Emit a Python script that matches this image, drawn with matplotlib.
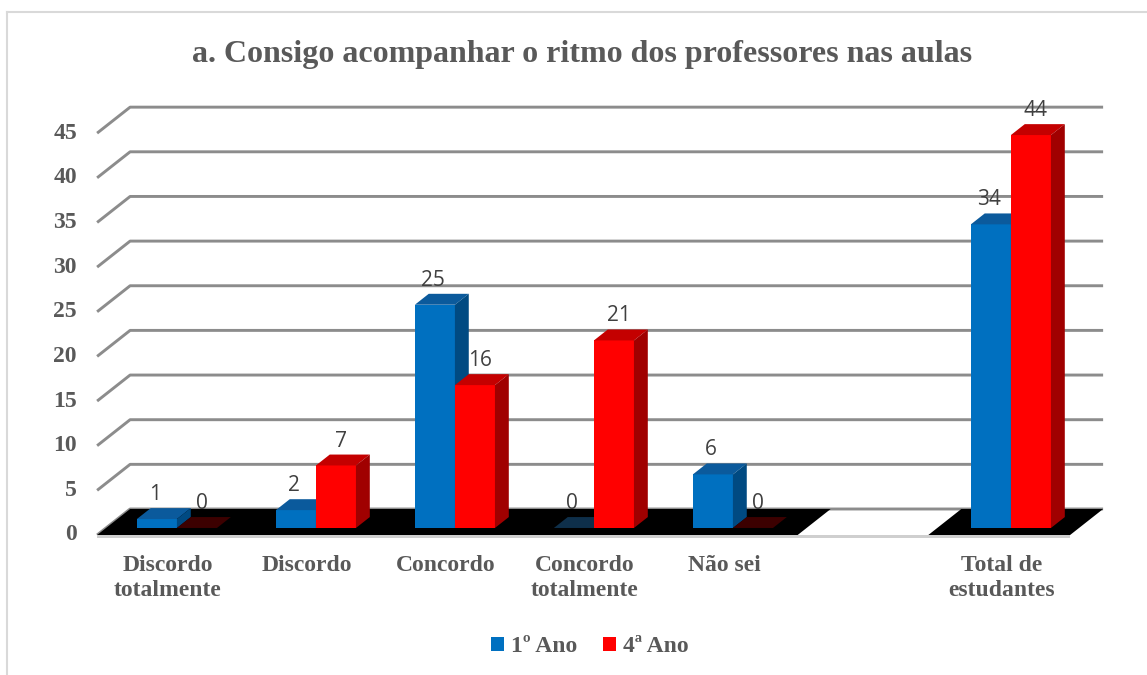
import numpy as np
import matplotlib.pyplot as plt
from matplotlib.patches import Patch
from matplotlib.lines import Line2D

# ---- data ----
categories = ["Discordo\ntotalmente", "Discordo", "Concordo", "Concordo\ntotalmente",
              "Não sei", "", "Total de\nestudantes"]
ano1 = [1, 2, 25, 0, 6, None, 34]
ano4 = [0, 7, 16, 21, 0, None, 44]
series_names = ["1º Ano", "4ª Ano"]
yticks = list(range(0, 50, 5))
title = "a. Consigo acompanhar o ritmo dos professores nas aulas"

# colours: front, top, side, zero-top
blue = ("#0070C0", "#0B5A9C", "#004A82", "#0E2F4A")
red = ("#FF0000", "#C40000", "#A00000", "#3C0000")
grey_txt = "#595959"
serif = ["Liberation Serif", "DejaVu Serif"]

# ---- pseudo 3d projection ----
DX = 33 / 139      # depth shift in category units
DY = 26 / 8.93     # depth shift in value units
D0, D1 = 0.27, 0.69  # bar depth range
W = 0.288          # bar width
X0, X1 = -0.51, 6.49


def proj(x, v, d):
    return x + DX * d, v + DY * d


def face(ax, pts, color, z):
    xs, ys = zip(*[proj(*p) for p in pts])
    ax.fill(xs, ys, color=color, lw=0, zorder=z)


def draw_bar(ax, x0, x1, v, cols, z):
    front, top, side, zero = cols
    if v == 0:
        face(ax, [(x0, 0, D0), (x1, 0, D0), (x1, 0, D1), (x0, 0, D1)], zero, z)
        return
    face(ax, [(x0, 0, D0), (x1, 0, D0), (x1, v, D0), (x0, v, D0)], front, z)
    face(ax, [(x0, v, D0), (x1, v, D0), (x1, v, D1), (x0, v, D1)], top, z)
    face(ax, [(x1, 0, D0), (x1, v, D0), (x1, v, D1), (x1, 0, D1)], side, z)


fig = plt.figure(figsize=(11.47, 6.75), dpi=100)
ax = fig.add_axes([0, 0, 1, 1])
ax.set_xlim(-168 / 139, (1147 - 168) / 139)
ax.set_ylim((535 - 675) / 8.93, 535 / 8.93)
ax.axis('off')

# back wall gridlines
for t in yticks:
    p0 = proj(X0, t, 0)
    p1 = proj(X0, t, 1)
    p2 = proj(X1, t, 1)
    ax.plot([p0[0], p1[0], p2[0]], [p0[1], p1[1], p2[1]], color="#8C8C8C", lw=2.1,
            zorder=1, solid_capstyle='butt')
    ax.text(-0.655, t, str(t), ha='right', va='center', fontsize=17,
            fontweight='bold', color=grey_txt, family=serif)

# floor (front strip + black surface with the gap)
face(ax, [(X0, 0, 0), (X1, 0, 0), (X1, -0.35, 0), (X0, -0.35, 0)], "#CFCFCF", 2)
for a, b in [(X0, 4.53), (5.47, X1)]:
    face(ax, [(a, 0, 0), (b, 0, 0), (b, 0, 1), (a, 0, 1)], "black", 2)

# bars and labels
for i, cat in enumerate(categories):
    if ano1[i] is not None:
        draw_bar(ax, i - W, i, ano1[i], blue, 3)
        draw_bar(ax, i, i + W, ano4[i], red, 4)
        for v, xc in [(ano1[i], i - W / 2 + 0.05), (ano4[i], i + W / 2 + 0.1)]:
            lx, ly = proj(xc, v, D1)
            ax.text(xc, ly + 0.9, str(v), ha='center', va='baseline', fontsize=15,
                    color="#404040", family=["Open Sans", "DejaVu Sans"], zorder=6)
    if cat:
        ax.text(i, -2.2, cat, ha='center', va='top', fontsize=17, fontweight='bold',
                color=grey_txt, family=serif, linespacing=1.3)

ax.text(2.982, (535 - 62) / 8.93, title, ha='center', va='baseline', fontsize=23,
        fontweight='bold', color=grey_txt, family=serif)

# legend
handles = [Patch(facecolor=blue[0], edgecolor='none'), Patch(facecolor=red[0], edgecolor='none')]
fig.legend(handles, series_names, loc='center', bbox_to_anchor=(590 / 1147, 1 - 647 / 675),
           ncol=2, frameon=False, handlelength=0.55, handleheight=0.55, handletextpad=0.3,
           columnspacing=1.1, prop={'family': serif, 'weight': 'bold', 'size': 17},
           labelcolor=grey_txt)

# outer chart border (left and top edges visible)
fig.add_artist(Line2D([7.5 / 1147, 7.5 / 1147], [0, 1 - 12 / 675], color="#D9D9D9", lw=1.5))
fig.add_artist(Line2D([7.5 / 1147, 1], [1 - 12 / 675, 1 - 12 / 675], color="#D9D9D9", lw=1.5))

fig.savefig("out.png", dpi=100)
